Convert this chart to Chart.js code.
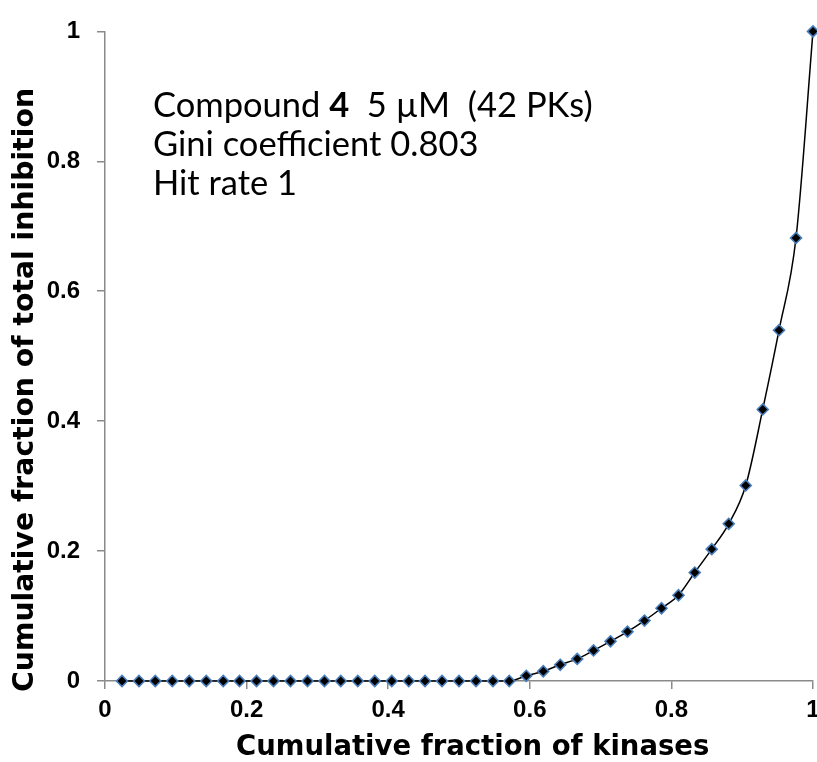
<!DOCTYPE html>
<html lang="en">
<head>
<meta charset="UTF-8">
<title>Cumulative fraction of total inhibition</title>
<script src="https://cdn.jsdelivr.net/npm/chart.js"></script>
<style>
    body{
        margin:0;
        background:#fff;
    }
    #wrap{
        position:relative;
        width:817px;
        height:762px;
    }
    #note{
        position:absolute;
        left:153px;
        top:84px;
        font-family:Lato, "Open Sans", sans-serif;
        font-size:34.5px;
        line-height:39px;
        color:#000;
        white-space:pre;
    }
</style>
</head>
<body>
<div id="wrap">
    <canvas id="giniChart" width="817" height="762"></canvas>
    <div id="note">Compound <b>4</b>  5 µM  (42 PKs)
Gini coefficient 0.803
Hit rate 1</div>
</div>

<script>
// cumulative fraction of kinases (42 kinases)
const kinaseFraction = [
    0.024, 0.048, 0.071, 0.095, 0.119, 0.143, 0.167, 0.190, 0.214, 0.238,
    0.262, 0.286, 0.310, 0.333, 0.357, 0.381, 0.405, 0.429, 0.452, 0.476,
    0.500, 0.524, 0.548, 0.571, 0.595, 0.619, 0.643, 0.667, 0.690, 0.714,
    0.738, 0.762, 0.786, 0.810, 0.833, 0.857, 0.881, 0.905, 0.929, 0.952,
    0.976, 1.000
]
// cumulative fraction of total inhibition
const inhibitionFraction = [
    0, 0, 0, 0, 0, 0, 0, 0, 0, 0,
    0, 0, 0, 0, 0, 0, 0, 0, 0, 0,
    0, 0, 0, 0, 0.008, 0.015, 0.025, 0.034, 0.047, 0.061,
    0.076, 0.093, 0.112, 0.132, 0.167, 0.203, 0.242, 0.301, 0.418, 0.540,
    0.682, 1.000
]
const tickValues = [0, 0.2, 0.4, 0.6, 0.8, 1]
const tickLabels = ["0", "0.2", "0.4", "0.6", "0.8", "1"]
const xTitle = "Cumulative fraction of kinases"
const yTitle = "Cumulative fraction of total inhibition"

const points = kinaseFraction.map((x, i) => ({x: x, y: inhibitionFraction[i]}))

const axisGrey = "#8a8a8a"
const tickFont = {family: "'Liberation Sans', Arial, sans-serif", weight: "bold", size: 24}

// axis titles drawn by hand: excel puts them a bit off-centre
const axisTitles = {
    id: "axisTitles",
    afterDraw(chart) {
        const {ctx, chartArea} = chart
        ctx.save()
        ctx.fillStyle = "#000"
        ctx.textAlign = "left"
        ctx.textBaseline = "alphabetic"
        ctx.font = "bold 27.5px 'DejaVu Sans', sans-serif"
        ctx.fillText(xTitle, chartArea.left + 131, chartArea.bottom + 74)
        ctx.translate(chartArea.left - 72, chartArea.bottom + 11)
        ctx.rotate(-Math.PI / 2)
        ctx.font = "bold 28.3px 'DejaVu Sans', sans-serif"
        ctx.fillText(yTitle, 0, 0)
        ctx.restore()
    }
}

const ctx = document.getElementById("giniChart").getContext("2d")
new Chart(ctx, {
    type: "line",
    data: {
        datasets: [{
            data: points,
            borderColor: "#000",
            borderWidth: 1.5,
            cubicInterpolationMode: "monotone",
            pointStyle: "rectRot",
            pointRadius: 5.5,
            pointBackgroundColor: "#000",
            pointBorderColor: "#4a7ebb",
            pointBorderWidth: 1.6,
            fill: false,
            clip: false
        }]
    },
    options: {
        responsive: false,
        animation: false,
        layout: {autoPadding: false, padding: {top: 24, right: 0, left: 0, bottom: 0}},
        plugins: {
            legend: {display: false},
            tooltip: {enabled: false}
        },
        scales: {
            x: {
                type: "linear",
                min: 0,
                max: 1,
                afterBuildTicks: axis => { axis.ticks = tickValues.map(v => ({value: v})) },
                afterFit: scale => { scale.height = 81; scale.paddingRight = 4; scale.paddingLeft = 0 },
                grid: {drawOnChartArea: false, color: axisGrey, lineWidth: 1.5, tickLength: 8},
                border: {color: axisGrey, width: 1.5},
                ticks: {color: "#000", font: tickFont, padding: 7, maxRotation: 0,
                    callback: (v, i) => tickLabels[i]}
            },
            y: {
                type: "linear",
                min: 0,
                max: 1,
                afterBuildTicks: axis => { axis.ticks = tickValues.map(v => ({value: v})) },
                afterFit: scale => { scale.width = 105 },
                grid: {drawOnChartArea: false, color: axisGrey, lineWidth: 1.5, tickLength: 8},
                border: {color: axisGrey, width: 1.5},
                ticks: {color: "#000", font: tickFont, padding: 17,
                    callback: (v, i) => tickLabels[i]}
            }
        }
    },
    plugins: [axisTitles]
})
</script>
</body>
</html>
